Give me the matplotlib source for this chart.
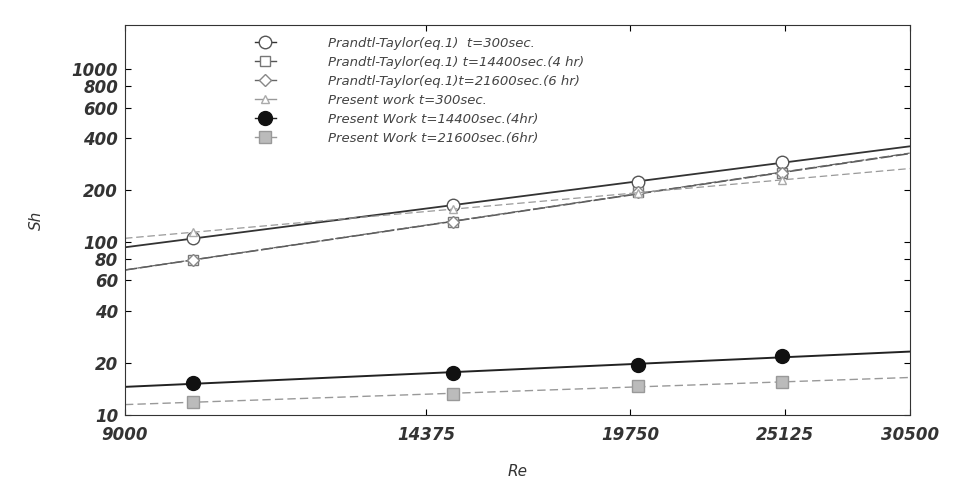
#!/usr/bin/env python3
'''
Sh against Re, Prandtl-Taylor vs present work (log-log)
'''
import numpy as np
import matplotlib.pyplot as plt
from matplotlib.ticker import FixedLocator, FixedFormatter, NullLocator

re_vals = [10000, 15000, 20000, 25000]

pt_300 = [105, 164, 222, 290]
pt_14400 = [79, 130, 194, 250]
pt_21600 = [79, 131, 195, 251]
pw_300 = [114, 155, 193, 229]
pw_14400 = [15.3, 17.5, 19.5, 21.9]
pw_21600 = [11.9, 13.2, 14.7, 15.5]

labels = ['Prandtl-Taylor(eq.1)  t=300sec.',
          'Prandtl-Taylor(eq.1) t=14400sec.(4 hr)',
          'Prandtl-Taylor(eq.1)t=21600sec.(6 hr)',
          'Present work t=300sec.',
          'Present Work t=14400sec.(4hr)',
          'Present Work t=21600sec.(6hr)']

x_ticks = [9000, 14375, 19750, 25125, 30500]
y_ticks = [10, 20, 40, 60, 80, 100, 200, 400, 600, 800, 1000]


def fit_line(xs, ys, x_range):
    '''power-law fit drawn as straight line on log-log axes'''
    k, c = np.polyfit(np.log10(xs), np.log10(ys), 1)
    xx = np.array(x_range)
    return xx, 10 ** (c + k * np.log10(xx))


fig = plt.figure(figsize=(9.57, 4.8), dpi=100)
ax = fig.add_axes([0.1306, 0.1354, 0.82, 0.8125])
ax.set_xscale('log')
ax.set_yscale('log')

xr = [9000, 30500]
series = [
    (pt_300, dict(marker='o', mfc='white', mec='#555555', ms=9), '#333333', '-', 1.3),
    (pt_14400, dict(marker='s', mfc='white', mec='#777777', ms=7), '#555555', (0, (8, 2)), 1.1),
    (pt_21600, dict(marker='D', mfc='white', mec='#888888', ms=6), '#666666', (0, (8, 2)), 0.9),
    (pw_300, dict(marker='^', mfc='white', mec='#aaaaaa', ms=6), '#999999', (0, (6, 3)), 0.9),
    (pw_14400, dict(marker='o', mfc='#111111', mec='#111111', ms=10), '#222222', '-', 1.4),
    (pw_21600, dict(marker='s', mfc='#bbbbbb', mec='#999999', ms=8), '#999999', (0, (6, 3)), 1.0),
]

for (ys, mk, col, ls, lw), lab in zip(series, labels):
    lx, ly = fit_line(re_vals, ys, xr)
    ax.plot(lx, ly, color=col, ls=ls, lw=lw)
    ax.plot(re_vals, ys, ls='none', **mk)
    # legend handle: marker with a short line
    ax.plot([], [], color=col, ls='-', lw=1.0, label=lab, **mk)

ax.set_xlim(9000, 30500)
ax.set_ylim(10, 1800)

ax.xaxis.set_major_locator(FixedLocator(x_ticks))
ax.xaxis.set_major_formatter(FixedFormatter([str(v) for v in x_ticks]))
ax.xaxis.set_minor_locator(NullLocator())
ax.yaxis.set_major_locator(FixedLocator(y_ticks))
ax.yaxis.set_major_formatter(FixedFormatter([str(v) for v in y_ticks]))
ax.yaxis.set_minor_locator(NullLocator())

ax.tick_params(direction='in', top=True, right=True, length=4,
               labelsize=12, labelcolor='#333333')
ax.tick_params(axis='x', pad=8)
ax.tick_params(axis='y', pad=5)
for lbl in ax.get_xticklabels() + ax.get_yticklabels():
    lbl.set_fontweight('bold')
    lbl.set_fontstyle('italic')
for sp in ax.spines.values():
    sp.set_color('#333333')

ax.set_xlabel('Re', fontsize=11, fontstyle='italic', color='#333333',
              labelpad=14)
ax.set_ylabel('Sh', fontsize=11, fontstyle='italic', color='#333333',
              labelpad=20)

leg = ax.legend(loc='upper left', bbox_to_anchor=(0.15, 1.0), frameon=False,
                handlelength=1.6, labelspacing=0.45, handletextpad=4.0,
                prop={'style': 'italic', 'size': 9.5})
for t in leg.get_texts():
    t.set_color('#444444')

plt.savefig('out.png', dpi=100)
